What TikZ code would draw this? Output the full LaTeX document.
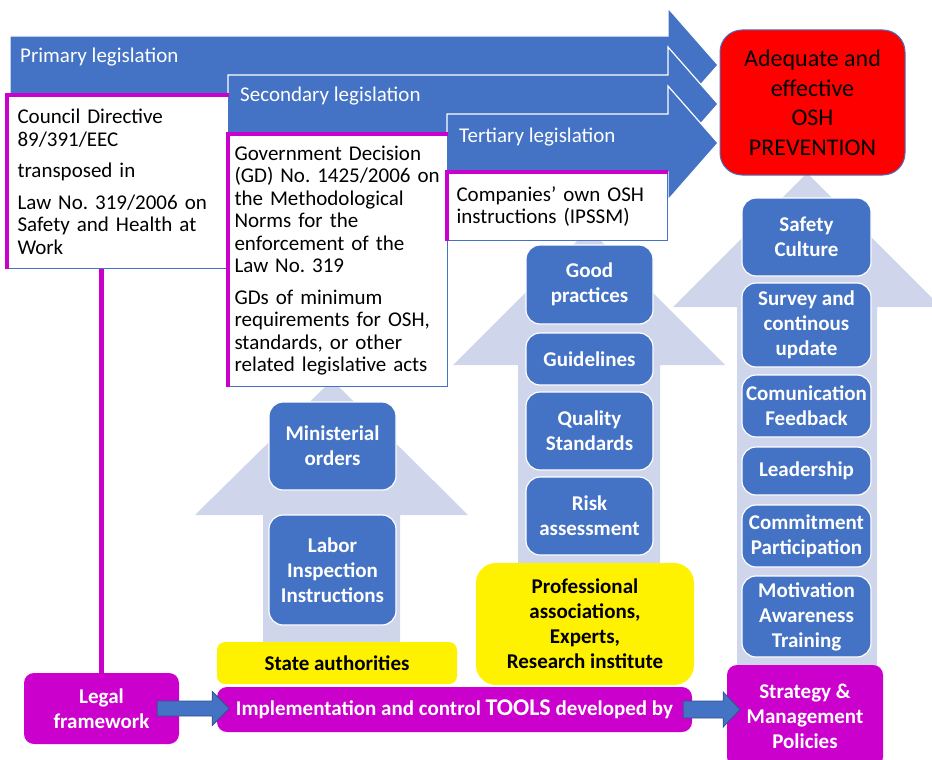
\documentclass[tikz,border=0pt]{standalone}
\usepackage{fontspec}
\setmainfont{Carlito}
\usepackage{tikz}
\definecolor{oshblue}{HTML}{4472C4}
\definecolor{oshlight}{HTML}{CFD5EA}
\definecolor{oshmag}{HTML}{CC00CC}
\definecolor{oshdark}{HTML}{2F528F}
\newcommand{\regular}{\frenchspacing\fontsize{21}{22.5}\selectfont}
\newcommand{\heavy}{\bfseries\fontsize{21}{25}\selectfont}
\tikzstyle{legarrow}=[fill=oshblue, draw=white, line width=1.2pt]
\tikzstyle{uparrow}=[fill=oshlight]
\tikzstyle{leg}=[anchor=base west, inner sep=0pt, text=white, font=\regular]
\tikzstyle{doc}=[rectangle, anchor=north west, draw=oshblue, line width=1pt, fill=white, align=left, inner xsep=6pt, inner ysep=0pt, font=\regular]
\tikzstyle{magline}=[-, draw=oshmag, line width=4.5pt]
\tikzstyle{tool}=[rectangle, rounded corners=14pt, draw=white, line width=1.2pt, fill=oshblue, text=white, inner sep=0pt, align=center, font=\heavy]
\tikzstyle{actor}=[rectangle, fill=yellow, inner sep=0pt, align=center, font=\heavy]
\tikzstyle{frame}=[rectangle, rounded corners=10pt, fill=oshmag, text=white, inner sep=0pt, align=center, font=\heavy]
\tikzstyle{goal}=[rectangle, rounded corners=22pt, draw=oshblue, line width=1pt, fill=red, inner sep=0pt, align=center, font=\fontsize{24}{29.5}\selectfont]
\tikzstyle{fat}=[fill=oshblue, draw=oshdark, line width=0.8pt, line join=miter]

\begin{document}
\begin{tikzpicture}[x=1pt, y=-1pt]
				\useasboundingbox (0,0) rectangle (932,760);

				%The light arrows behind the tools
				\fill[uparrow] (263,643) -- (263,515) -- (195,515) -- (332,380) -- (468,515) -- (400,515) -- (400,643) -- cycle;
				\fill[uparrow] (518,563) -- (518,365) -- (453,365) -- (589,229) -- (725,365) -- (660,365) -- (660,563) -- cycle;
				\fill[uparrow] (737,667) -- (737,307) -- (673,307) -- (807,173) -- (941,307) -- (877,307) -- (877,667) -- cycle;

				%The legislation arrows
				\draw[legarrow] (10,36) -- (668,36) -- (668,8) -- (718,65) -- (668,122) -- (668,94) -- (10,94) -- cycle;
				\draw[legarrow] (228,75) -- (668,75) -- (668,47) -- (718,104) -- (668,161) -- (668,133) -- (228,133) -- cycle;
				\draw[legarrow] (447,114) -- (668,114) -- (668,86) -- (718,143) -- (668,200) -- (668,172) -- (447,172) -- cycle;
				\draw (20,63) node[leg] (primary) {Primary legislation};
				\draw (240,102) node[leg] (secondary) {Secondary legislation};
				\draw (459,142) node[leg] (tertiary) {Tertiary legislation};

				%The legal texts
				\draw (7,95) node[doc, inner xsep=10pt, text width=201pt, minimum height=173pt] (council) {Council Directive\\89/391/EEC\\[9pt]transposed in\\[9pt]Law No. 319/2006 on\\Safety and Health at\\Work};
				\draw (228,134) node[doc, text width=207pt, minimum height=252pt] (gd) {Government Decision\\(GD) No. 1425/2006 on\\the Methodological\\Norms for the\\enforcement of the\\Law No. 319\\[9pt]GDs of minimum\\requirements for OSH,\\standards, or other\\related legislative acts};
				\draw (447,172) node[doc, inner xsep=9pt, text width=202pt, minimum height=68pt] (companies) {Companies’ own OSH\\instructions (IPSSM)};
				\draw[magline] (council.south west) -- (council.north west) -- (council.north east);
				\draw[magline] (gd.south west) -- (gd.north west) -- (gd.north east);
				\draw[magline] (companies.south west) -- (companies.north west) -- (companies.north east);

				%The goal
				\draw (812.5,102.5) node[goal, minimum width=185pt, minimum height=145pt] (goal) {Adequate and\\effective\\OSH\\PREVENTION};

				%The tools of the state authorities
				\draw (332.5,446) node[tool, minimum width=127pt, minimum height=88pt] (ministerial) {Ministerial\\orders};
				\draw (332.5,570) node[tool, minimum width=127pt, minimum height=110pt] (labor) {Labor\\Inspection\\Instructions};

				%The tools of the experts
				\draw (589.5,284.5) node[tool, minimum width=127pt, minimum height=79pt] (practices) {Good\\practices};
				\draw (589.5,359) node[tool, minimum width=127pt, minimum height=52pt] (guidelines) {Guidelines};
				\draw (589.5,431) node[tool, minimum width=127pt, minimum height=78pt] (quality) {Quality\\Standards};
				\draw (589.5,516) node[tool, minimum width=127pt, minimum height=78pt] (risk) {Risk\\assessment};

				%The management tools
				\draw (806.5,237) node[tool, minimum width=129pt, minimum height=78pt] (culture) {Safety\\Culture};
				\draw (806.5,325) node[tool, minimum width=129pt, minimum height=84pt] (survey) {Survey and\\continous\\update};
				\draw (806.5,406) node[tool, minimum width=129pt, minimum height=62pt] (feedback) {Comunication\\Feedback};
				\draw (806.5,471) node[tool, minimum width=129pt, minimum height=48pt] (leadership) {Leadership};
				\draw (806.5,536) node[tool, minimum width=129pt, minimum height=62pt] (commitment) {Commitment\\Participation};
				\draw (806.5,616.5) node[tool, minimum width=129pt, minimum height=81pt] (motivation) {Motivation\\Awareness\\Training};

				%The actors
				\draw (337,663) node[actor, rounded corners=8pt, minimum width=240pt, minimum height=42pt] (state) {State authorities};
				\draw (585,624) node[actor, rounded corners=20pt, minimum width=218pt, minimum height=122pt] (experts) {Professional\\associations,\\Experts,\\Research institute};

				%The bottom row
				\draw (101.5,708.5) node[frame, minimum width=155pt, minimum height=71pt] (legal) {Legal\\framework};
				\draw (454.5,709.5) node[frame, minimum width=475pt, minimum height=45pt] (impl) {Implementation and control {\fontsize{24}{25}\selectfont TOOLS} developed by};
				\draw (805,716) node[frame, minimum width=156pt, minimum height=102pt] (strategy) {Strategy \&\\Management\\Policies};

				%The links
				\draw[magline] (council.south -| legal.north) -- (legal.north);
				\draw[fat] ([shift={(-22,-7.5)}]legal.east) -- ++(55,0) -- ++(0,-9.5) -- ++(17,17) -- ++(-17,17) -- ++(0,-9.5) -- ++(-55,0) -- cycle;
				\draw[fat] ([shift={(-9,-8.5)}]impl.east) -- ++(40,0) -- ++(0,-9) -- ++(17,17.5) -- ++(-17,17.5) -- ++(0,-9) -- ++(-40,0) -- cycle;
			\end{tikzpicture}
\end{document}
